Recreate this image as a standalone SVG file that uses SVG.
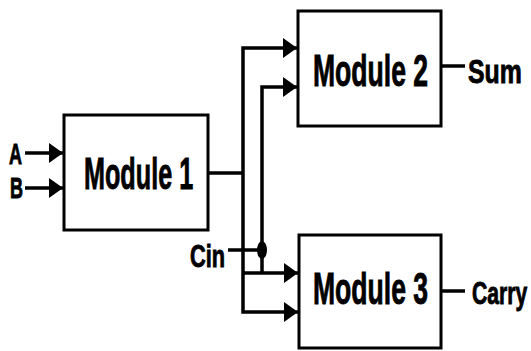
<svg xmlns="http://www.w3.org/2000/svg" width="531" height="351" viewBox="0 0 531 351">
<style>
  .box { fill: #fff; stroke: #000; stroke-width: 3; }
  .wire { fill: none; stroke: #000; stroke-width: 3.5; }
  .lbl { font-family: "Liberation Sans", Arial, sans-serif; font-weight: bold; fill: #000; stroke: #000; stroke-width: 0.9; }
  .big { font-size: 45px; }
  .sm { font-size: 32px; }
</style>
<defs>
  <marker id="arr" markerUnits="userSpaceOnUse" markerWidth="16" markerHeight="22" viewBox="0 0 16 22" refX="15" refY="11" orient="auto">
    <path d="M1,1 L15,11 L1,21 Z" fill="#000"/>
  </marker>
</defs>
<rect width="531" height="351" fill="#fff"/>
<g id="connectors">
  <path class="wire" d="M25,153 H63" marker-end="url(#arr)"/>
  <path class="wire" d="M25,188 H63" marker-end="url(#arr)"/>
  <path class="wire" d="M204,173 H243"/>
  <path class="wire" d="M243,173 V48 H297" marker-end="url(#arr)"/>
  <path class="wire" d="M243,173 V312 H298" marker-end="url(#arr)"/>
  <path class="wire" d="M243,273 H298" marker-end="url(#arr)"/>
  <path class="wire" d="M262,273 V87 H297" marker-end="url(#arr)"/>
  <path class="wire" d="M228,250 H262"/>
  <ellipse cx="262" cy="250" rx="5" ry="9" fill="#000"/>
  <path class="wire" d="M441,66 H465"/>
  <path class="wire" d="M441,291 H465"/>
</g>
<g id="module1">
  <rect class="box" x="64" y="115" width="144" height="115"/>
  <text class="lbl big" transform="translate(84,189) scale(0.56,1)">Module 1</text>
</g>
<g id="module2">
  <rect class="box" x="298" y="11" width="143" height="115"/>
  <text class="lbl big" transform="translate(313,86) scale(0.59,1)">Module 2</text>
</g>
<g id="module3">
  <rect class="box" x="299" y="235" width="142" height="113"/>
  <text class="lbl big" transform="translate(313,304) scale(0.59,1)">Module 3</text>
</g>
<g id="labels">
  <text class="lbl" font-size="30" transform="translate(9,164) scale(0.6,1)">A</text>
  <text class="lbl" font-size="30" transform="translate(10,198) scale(0.6,1)">B</text>
  <text class="lbl sm" transform="translate(190,267) scale(0.68,1)">Cin</text>
  <text class="lbl" font-size="34" transform="translate(468,83) scale(0.73,1)">Sum</text>
  <text class="lbl sm" transform="translate(472,304) scale(0.66,1)">Carry</text>
</g>
</svg>
